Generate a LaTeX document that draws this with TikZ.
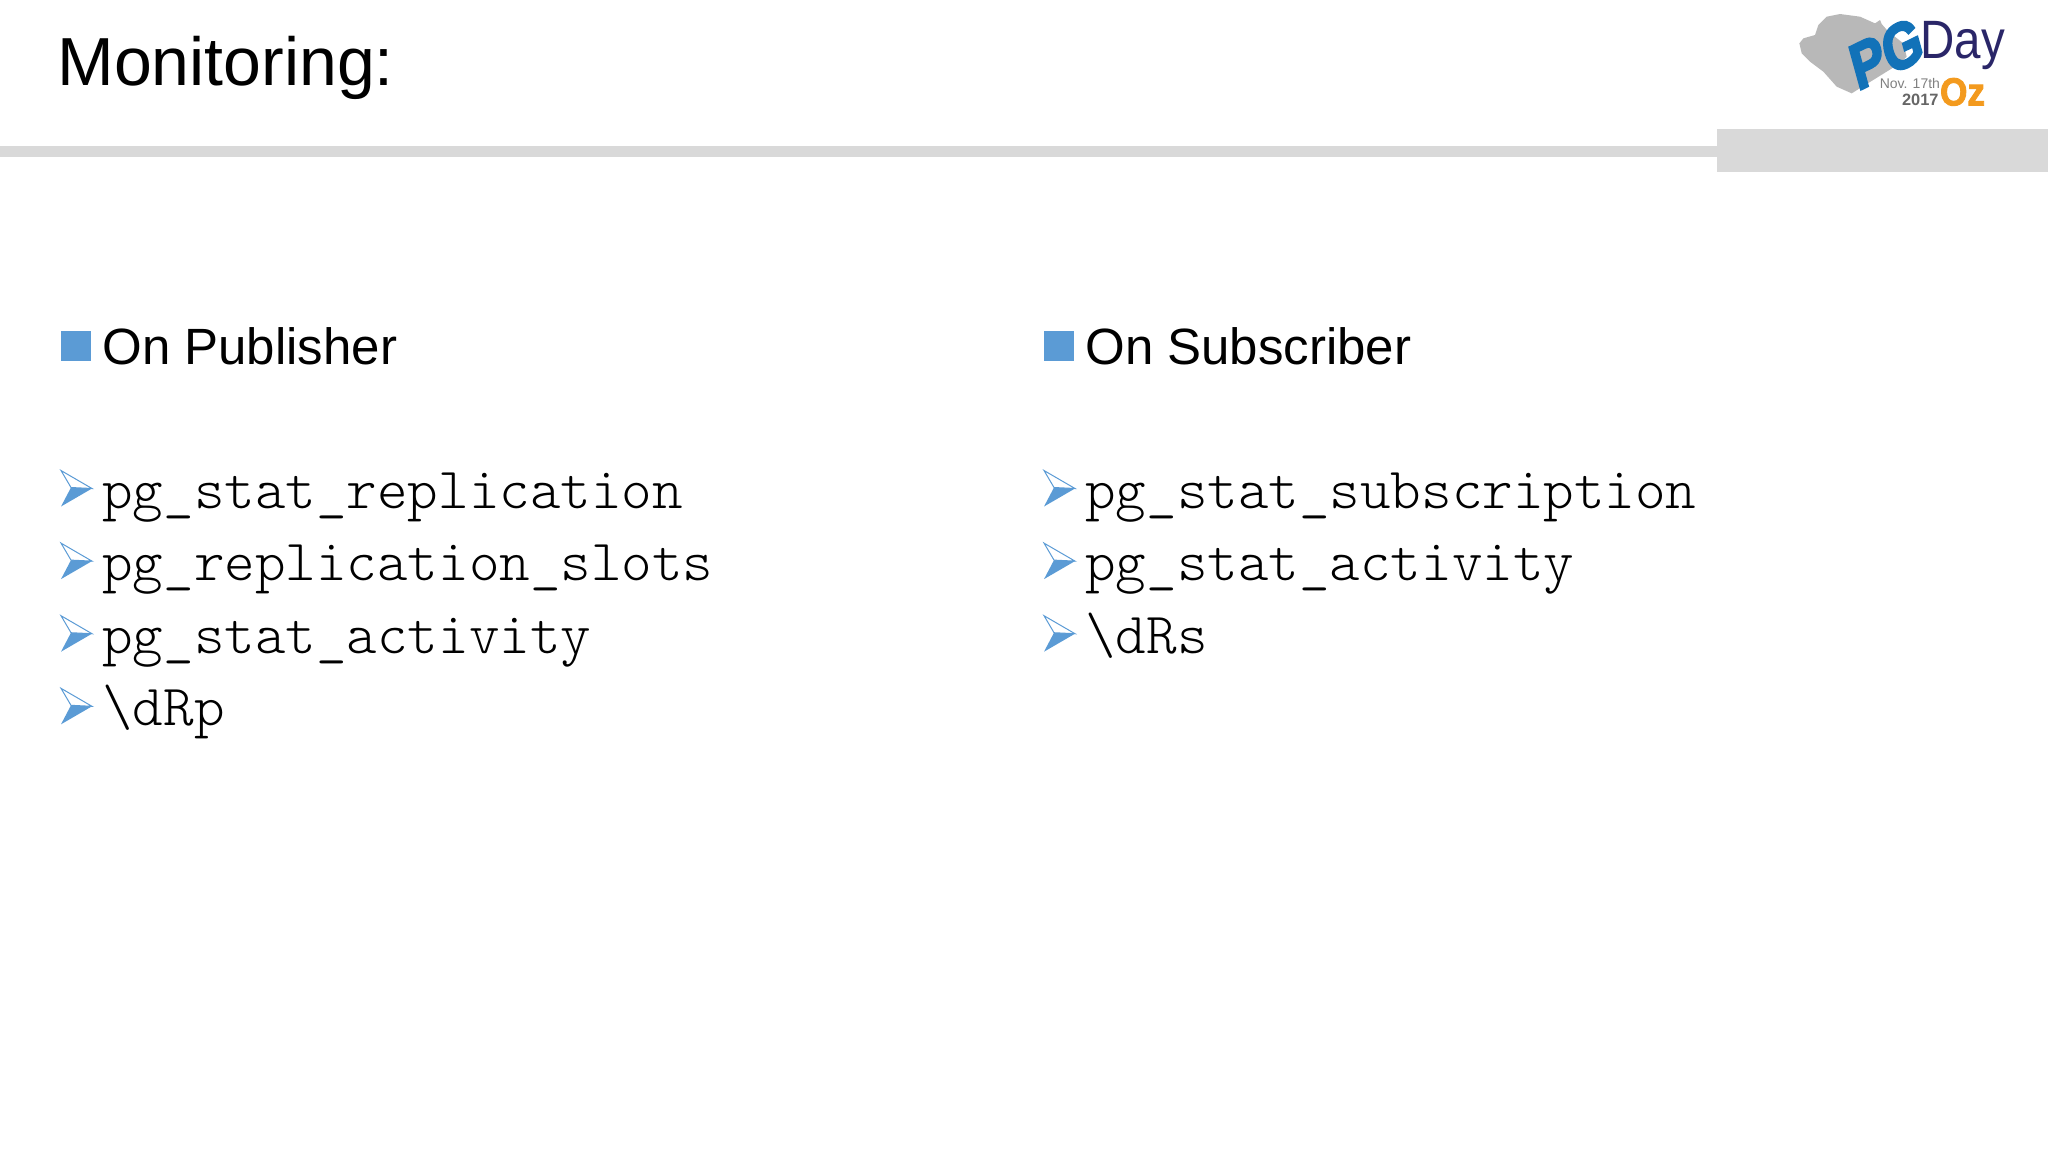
\documentclass[tikz,border=0pt]{standalone}
\usepackage{fontspec}
\setmainfont{Liberation Sans}
\setmonofont{Latin Modern Mono Light}
\newfontfamily\logofont[FakeBold=2.5]{Liberation Sans Bold}
\newfontfamily\pgfont[FakeBold=4,FakeSlant=0.22]{Liberation Sans Bold}
\usetikzlibrary{calc,positioning}
\tikzset{>=latex}
\definecolor{barGray}{HTML}{D9D9D9}
\definecolor{bulletBlue}{HTML}{5B9BD5}
\definecolor{pgBlue}{HTML}{1272B8}
\definecolor{dayNavy}{HTML}{2A2668}
\definecolor{ozOrange}{HTML}{F39A1E}
\tikzstyle{title}    = [anchor=base west, inner sep=0pt, font=\fontsize{34}{40}\selectfont]
\tikzstyle{heading}  = [anchor=base west, inner sep=0pt, font=\fontsize{25.5}{30}\selectfont]
\tikzstyle{headbox}  = [rectangle, fill=bulletBlue, minimum size=15pt, inner sep=0pt]
\tikzstyle{viewname} = [inner sep=0pt, text width=340pt, align=left, text height=16pt, text depth=6pt, font=\ttfamily\fontsize{29.1}{30}\selectfont]
\tikzset{pics/arrowmark/.style={code={
  \fill[bulletBlue] (0,18) -- (31,0) -- (10,-1) -- cycle;
  \draw[bulletBlue, line width=0.5pt, fill=white] (0,-18) -- (31,0) -- (10,-1) -- cycle;
}}}

\begin{document}
\begin{tikzpicture}[x=0.5pt, y=-0.5pt, node distance=36.3pt]
      \useasboundingbox (0,0) rectangle (2048,1152);
      % header
      \fill[barGray] (0,146) rectangle (1717,157);
      \fill[barGray] (1717,129) rectangle (2048,172);
      \node[title] (title) at (57,85) {Monitoring:};
      % logo
      \begin{scope}[shift={(1760,0)}, x=0.1667pt, y=-0.1667pt]
        \fill[black!28] (118,130) -- (130,115) -- (165,105) -- (175,75) -- (200,50) -- (240,42)
          -- (300,50) -- (345,70) -- (360,60) -- (365,72) -- (385,95) -- (430,130) -- (440,170)
          -- (420,190) -- (275,280) -- (230,260) -- (190,215) -- (150,185) -- (125,160) -- cycle;
        \node[inner sep=0pt, rotate=26, xscale=0.85, text=pgBlue, font=\pgfont\fontsize{31}{31}\selectfont] (pg) at (368,165) {PG};
        \node[anchor=base west, inner sep=0pt, xscale=0.88, text=dayNavy, font=\fontsize{27}{27}\selectfont] (day) at (480,176) {Day};
        \node[anchor=base west, inner sep=0pt, text=black!50, font=\fontsize{7}{8}\selectfont] (date) at (358,264) {Nov. 17th};
        \node[anchor=base west, inner sep=0pt, text=black!60, font=\bfseries\fontsize{8.2}{9}\selectfont] (year) at (425,316) {2017};
        \node[anchor=base west, inner sep=0pt, xscale=0.9, text=ozOrange, font=\logofont\fontsize{19.5}{20}\selectfont] (oz) at (539,316) {Oz};
      \end{scope}
      % publisher column
      \node[headbox] (pubbox) at (75.5,346) {};
      \node[heading] (pubhead) at (102,364) {On Publisher};
      \node[viewname, anchor=west] (pubrepl) at (102,498) {pg\_stat\_replication};
      \node[viewname, below of=pubrepl] (pubslots) {pg\_replication\_slots};
      \node[viewname, below of=pubslots] (pubact) {pg\_stat\_activity};
      \node[viewname, below of=pubact] (pubdrp) {\textbackslash dRp};
      % subscriber column
      \node[headbox] (subbox) at (1059,346) {};
      \node[heading] (subhead) at (1085,364) {On Subscriber};
      \node[viewname, anchor=west] (subsub) at (1085,498) {pg\_stat\_subscription};
      \node[viewname, below of=subsub] (subact) {pg\_stat\_activity};
      \node[viewname, below of=subact] (subdrs) {\textbackslash dRs};
      \foreach \row in {pubrepl,pubslots,pubact,pubdrp,subsub,subact,subdrs}
        \pic at ($(\row.west)+(-41,-9.5)$) {arrowmark};
\end{tikzpicture}
\end{document}
